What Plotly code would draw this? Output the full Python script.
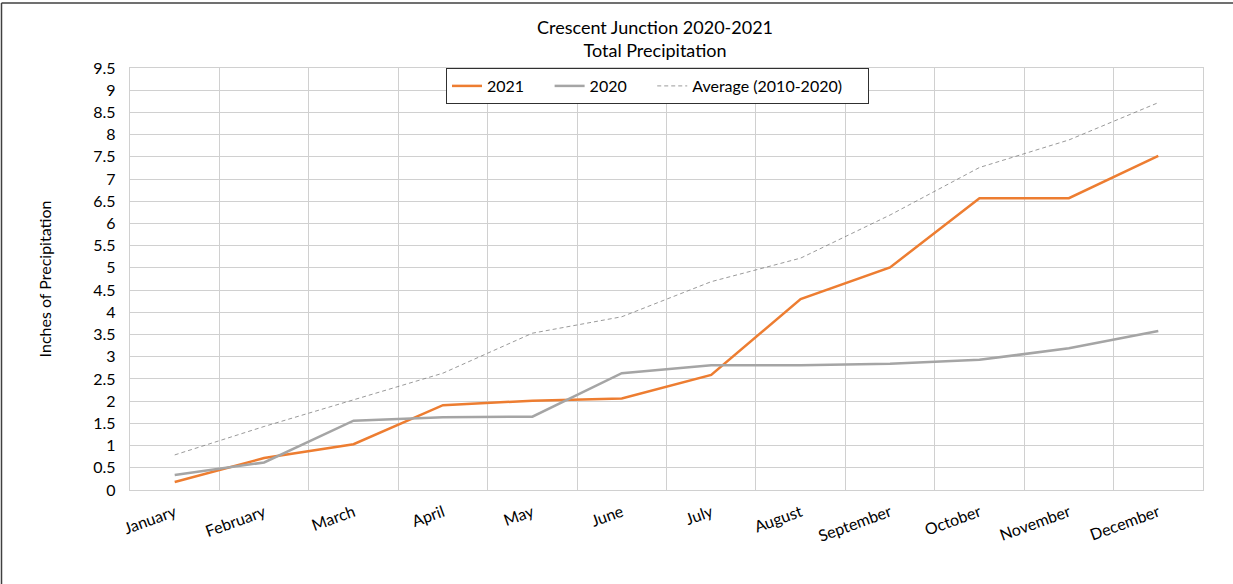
import plotly.graph_objects as go

months = ["January", "February", "March", "April", "May", "June", "July",
          "August", "September", "October", "November", "December"]
y2021 = [0.18, 0.72, 1.03, 1.91, 2.01, 2.06, 2.59, 4.30, 5.01, 6.57, 6.57, 7.52]
y2020 = [0.34, 0.62, 1.56, 1.64, 1.65, 2.63, 2.81, 2.81, 2.84, 2.93, 3.19, 3.58]
avg = [0.79, 1.43, 2.03, 2.63, 3.53, 3.90, 4.69, 5.22, 6.19, 7.26, 7.88, 8.72]
yticks = [i * 0.5 for i in range(20)]
ytick_text = [("%g" % v) for v in yticks]
series_names = ["2021", "2020", "Average (2010-2020)"]

FONT = "Lato, 'Open Sans', sans-serif"
PAD = "\u00a0" * 5

fig = go.Figure()
fig.add_trace(go.Scatter(x=months, y=y2021, name=series_names[0] + PAD, mode="lines",
                         line=dict(color="#ED7D31", width=2.5)))
fig.add_trace(go.Scatter(x=months, y=y2020, name=series_names[1] + PAD, mode="lines",
                         line=dict(color="#A5A5A5", width=2.5)))
fig.add_trace(go.Scatter(x=months, y=avg, name=series_names[2] + PAD, mode="lines",
                         line=dict(color="#808080", width=0.8, dash="4px,3px")))

L, R, T, B = 130, 30, 68, 94
pw, ph = 1233 - L - R, 584 - T - B


def px_x(px):
    return (px - L) / pw


def px_y(py):
    return (584 - B - py) / ph


fig.update_layout(
    width=1233, height=584,
    margin=dict(l=L, r=R, t=T, b=B, autoexpand=False),
    paper_bgcolor="white", plot_bgcolor="white",
    font=dict(family=FONT, size=16, color="#000000"),
    showlegend=True,
    legend=dict(orientation="h", x=px_x(446), xanchor="left", y=1.0, yanchor="top",
                bgcolor="white", bordercolor="#303030", borderwidth=1,
                font=dict(family=FONT, size=16), itemwidth=30,
                tracegroupgap=0),
    xaxis=dict(type="category", range=[-0.5, 11.5], tickson="boundaries",
               showgrid=True, gridcolor="#D0D0D0", gridwidth=1.3,
               tickangle=-20, ticks="", showline=True, linecolor="#D0D0D0",
               linewidth=1.3, mirror=True, automargin=False,
               ticklabelstandoff=6,
               tickfont=dict(family=FONT, size=16), zeroline=False),
    yaxis=dict(range=[0, 9.5], tickvals=yticks, ticktext=ytick_text,
               showgrid=True, gridcolor="#D0D0D0", gridwidth=1.3,
               showline=True, linecolor="#D0D0D0", linewidth=1.3, mirror=True,
               ticks="", zeroline=False, ticklabelstandoff=10, automargin=False,
               title=dict(text="Inches of Precipitation", standoff=37,
                          font=dict(family=FONT, size=16)),
               tickfont=dict(family=FONT, size=16)),
    annotations=[
        dict(text="Crescent Junction 2020-2021<br>Total Precipitation",
             xref="paper", yref="paper", x=px_x(655), y=px_y(14),
             xanchor="center", yanchor="top", showarrow=False,
             font=dict(family=FONT, size=18, color="#000000")),
    ],
    shapes=[
        dict(type="line", xref="paper", yref="paper",
             x0=px_x(1.5), x1=px_x(1.5), y0=px_y(3), y1=px_y(600),
             line=dict(color="#404040", width=1.5)),
        dict(type="line", xref="paper", yref="paper",
             x0=px_x(1.5), x1=px_x(1240), y0=px_y(3), y1=px_y(3),
             line=dict(color="#404040", width=1.5)),
    ],
)

fig.write_html("out.html", config={"displayModeBar": False},
               post_script="document.body.style.margin='0';")
